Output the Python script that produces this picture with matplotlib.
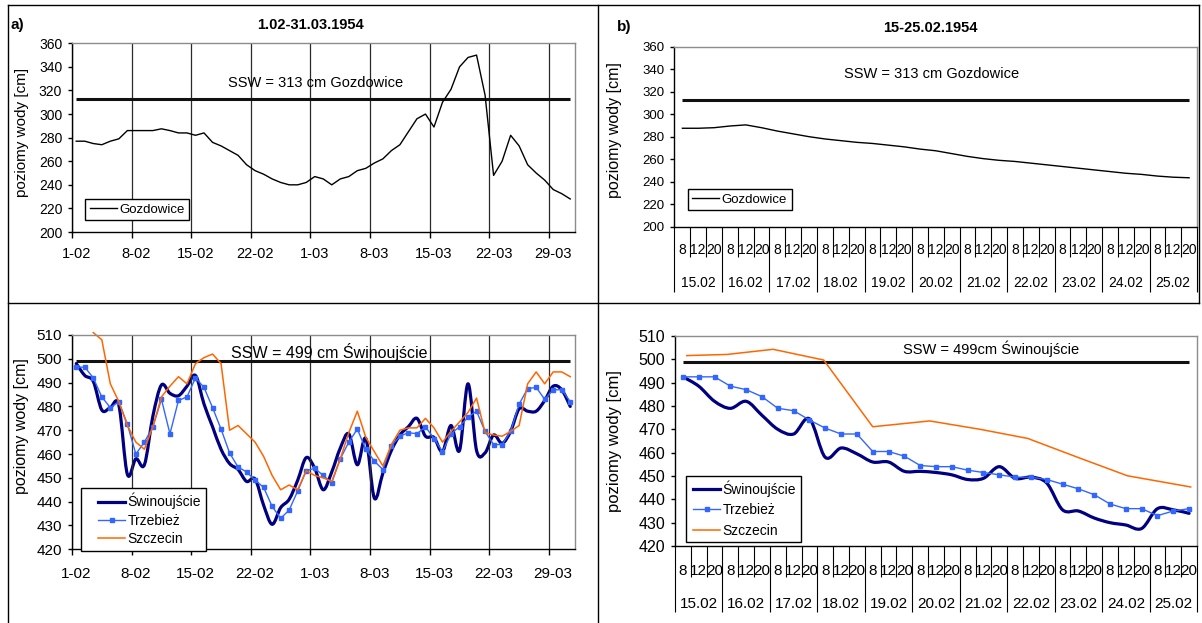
import matplotlib
matplotlib.use("Agg")
import matplotlib.pyplot as plt
import numpy as np
from matplotlib.path import Path
from matplotlib.patches import PathPatch
from matplotlib.lines import Line2D
from matplotlib.legend_handler import HandlerLine2D

plt.rcParams['font.family'] = ['Liberation Sans', 'DejaVu Sans']

# ---- a) 1.02-31.03.1954, daily values ----
week_labels = ['1-02', '8-02', '15-02', '22-02', '1-03', '8-03', '15-03', '22-03', '29-03']

gozdowice_a = [277, 277, 275, 274, 277, 279, 286, 286, 286, 286,
               287.5, 286, 284, 284, 282, 284, 276, 273, 269, 265,
               257, 252, 249, 245, 242, 240, 240, 242, 247, 245,
               240, 245, 247, 252, 254, 258.5, 262, 269, 274, 285,
               296, 300, 289, 310, 321, 340, 348, 350, 316, 248,
               260, 282, 273, 257, 250, 244, 236, 232.5, 228]

swinoujscie_a = [498, 493, 490.5, 478.5, 479.5, 480.5, 451.5, 458, 455.5, 476,
                 489, 485.5, 484.5, 488.5, 493, 481, 471.5, 462, 456, 453.5,
                 448.5, 449.5, 438.5, 430.5, 437.5, 441, 449, 458.5, 454, 445,
                 452.5, 462.5, 468.5, 455.5, 466.5, 441.5, 452, 461.5, 468, 471.5,
                 475, 467.5, 467, 461, 472, 461.5, 489.5, 461.5, 460.5, 468,
                 464.5, 469.5, 479, 478, 478, 482.5, 488.5, 487, 480]

trzebiez_a = [496.5, 496.5, 492, 484, 479.5, 482, 472.5, 460, 465, 471.5,
              483, 468.5, 482.5, 484, 492, 488, 479.5, 470.5, 460.5, 454.5,
              452.5, 449, 446, 438, 433, 436.5, 444.5, 453, 454, 451,
              448, 458, 465, 470.5, 462, 457, 453.5, 463.5, 467.5, 469,
              468.5, 471.5, 466.5, 461, 468.5, 471.5, 475.5, 478, 469.5, 464,
              464, 469.5, 481, 487.5, 488, 483, 487, 487, 482]

szczecin_a = [None, None, 511, 508, 489.5, 482, 472, 465, 462, 471.5,
              484, 488.5, 492.5, 489.5, 498, 500.5, 502, 498, 470, 472,
              468.5, 465, 459, 451, 445, 447, 445, 453, 451, 450,
              448.5, 458, 469, 478, 467, 461, 455, 464, 470, 471,
              471, 475, 471, 465, 469.5, 473.5, 477.5, 483.5, 469, 468,
              467.5, 469.5, 472, 489.5, 494.5, 489.5, 494.5, 494.5, 492.5]

# ---- b) 15-25.02.1954, readings at 8, 12 and 20 h ----
hours_b = ['8', '12', '20']
days_b = ['15.02', '16.02', '17.02', '18.02', '19.02', '20.02',
          '21.02', '22.02', '23.02', '24.02', '25.02']

gozdowice_b = [287.5, 287.5, 288, 289.5, 290.5, 288, 285, 282.5, 280, 278,
               276.5, 275, 274, 272.5, 271, 269, 267.5, 265, 262.5, 260.5,
               259, 258, 256.5, 255, 253.5, 252, 250.5, 249, 247.5, 246.5,
               245, 244, 243.5]

swinoujscie_b = [492.5, 488.5, 482, 479, 482, 476, 470, 468, 474.5, 458,
                 462, 459.5, 456, 456, 452, 452, 451.5, 450.5, 448.5, 449,
                 454, 449, 449.5, 447, 435.5, 435, 432, 430, 429, 427.5,
                 436, 435.5, 434]

trzebiez_b = [492.5, 492.5, 492.5, 488.5, 487, 484, 479, 478, 474, 470.5,
              468, 468, 460.5, 460.5, 458.5, 454.5, 454, 454, 452.5, 451.5,
              450.5, 449.5, 449.5, 448.5, 446.5, 444.5, 442, 438, 436, 436,
              433, 435, 436]

# Szczecin has fewer readings; position = index on the reading axis
szczecin_b_pos = [0.24, 2.8, 5.7, 8.9, 12.0, 15.6, 18.8, 21.8, 25.0, 28.1, 32.1]
szczecin_b = [501.6, 502.1, 504.3, 499.7, 471.1, 473.6, 470, 466.1, 457.9, 450.1, 445.3]

ssw_gozdowice = 313
ssw_swinoujscie = 499

NAVY = '#000080'
BLUE = '#3366ff'
ORANGE = '#ff6600'

W, H = 1202, 623
fig = plt.figure(figsize=(W / 100, H / 100), dpi=100)


def px_box(x0, y0, x1, y1):
    return [x0 / W, 1 - y1 / H, (x1 - x0) / W, (y1 - y0) / H]


def fig_text(x, y, s, **kw):
    fig.text(x / W, 1 - y / H, s, ha='center', va='center', **kw)


def fig_line(x0, y0, x1, y1):
    fig.add_artist(Line2D([x0 / W, x1 / W], [1 - y0 / H, 1 - y1 / H],
                          color='black', lw=1.0))


def smooth(ax, x, y, **kw):
    # excel-like smoothed line (bezier through the points)
    pts = np.column_stack([x, y])
    n = len(pts)
    verts = [pts[0]]
    codes = [Path.MOVETO]
    for i in range(n - 1):
        p0 = pts[max(i - 1, 0)]
        p1 = pts[i]
        p2 = pts[i + 1]
        p3 = pts[min(i + 2, n - 1)]
        verts += [p1 + (p2 - p0) / 6, p2 - (p3 - p1) / 6, p2]
        codes += [Path.CURVE4] * 3
    ax.add_patch(PathPatch(Path(verts, codes), fill=False, capstyle='round',
                           joinstyle='round', **kw))


def frame(ax):
    for side in ['top', 'right']:
        ax.spines[side].set_color('#8c8c8c')
    for side in ['left', 'bottom']:
        ax.spines[side].set_color('black')
    for sp in ax.spines.values():
        sp.set_linewidth(1.0)


def daily_axis(ax, ylo, yhi, step, ysize, xsize, xpad):
    n = len(gozdowice_a)
    ax.set_xlim(0, n)
    ax.set_ylim(ylo, yhi)
    ax.set_yticks(np.arange(ylo, yhi + 1, step))
    weeks = np.arange(0, n, 7)
    ax.set_xticks(weeks)
    ax.set_xticklabels([])
    ax.set_xticks(weeks + 0.5, minor=True)
    ax.set_xticklabels(week_labels, minor=True)
    ax.tick_params(axis='x', which='major', length=4, width=1)
    ax.tick_params(axis='x', which='minor', length=0, pad=xpad, labelsize=xsize)
    ax.tick_params(axis='y', length=3, width=1, pad=4, labelsize=ysize)
    ax.grid(axis='x', which='major', color='#2a2a2a', lw=0.9)
    frame(ax)


def reading_axis(ax, ylo, yhi, step, ysize, xsize, row1, row2, short, long):
    n = len(gozdowice_b)
    ax.set_xlim(0, n)
    ax.set_ylim(ylo, yhi)
    ax.set_yticks(np.arange(ylo, yhi + 1, step))
    ax.set_xticks(np.arange(0, n + 1, 3))
    ax.set_xticklabels([])
    ax.set_xticks(np.arange(0, n + 1), minor=True)
    ax.tick_params(axis='x', which='major', length=long, width=0.8)
    ax.tick_params(axis='x', which='minor', length=short, width=0.8)
    ax.tick_params(axis='y', length=3, width=1, pad=4, labelsize=ysize)
    for k in range(n):
        ax.annotate(hours_b[k % 3], xy=(k + 0.5, 0), xycoords=('data', 'axes fraction'),
                    xytext=(0, -row1), textcoords='offset points',
                    ha='center', va='center', fontsize=xsize)
    for j, d in enumerate(days_b):
        ax.annotate(d, xy=(3 * j + 1.5, 0), xycoords=('data', 'axes fraction'),
                    xytext=(0, -row2), textcoords='offset points',
                    ha='center', va='center', fontsize=xsize)
    frame(ax)


def legend(ax, handles, labels, x0, y0, size, xpad, hl, spacing):
    leg = ax.legend(handles, labels, loc='upper left',
                    bbox_to_anchor=(x0 / W, 1 - y0 / H), bbox_transform=fig.transFigure,
                    borderaxespad=0, fancybox=False, edgecolor='black', framealpha=1,
                    fontsize=size, handlelength=hl, handletextpad=0.2, borderpad=0.35,
                    labelspacing=spacing, handler_map={Line2D: HandlerLine2D(xpad=xpad)})
    leg.get_frame().set_linewidth(1.0)


day_x = np.arange(len(gozdowice_a)) + 0.5
read_x = np.arange(len(gozdowice_b)) + 0.5

# ---------------- a) top ----------------
ax1 = fig.add_axes(px_box(72, 43.3, 574.5, 232))
ax1.hlines(ssw_gozdowice, day_x[0], day_x[-1], color='#111111', lw=2.2)
l1, = ax1.plot(day_x, gozdowice_a, color='black', lw=1.0)
daily_axis(ax1, 200, 360, 20, 10, 10.5, 10.5)
legend(ax1, [l1], ['Gozdowice'], 85, 199, 9.5, 0.0, 2.05, 0.3)

# ---------------- a) bottom ----------------
ax2 = fig.add_axes(px_box(72, 335, 574.5, 549.3))
ax2.hlines(ssw_swinoujscie, day_x[0], day_x[-1], color='#111111', lw=2.2)
smooth(ax2, day_x, swinoujscie_a, edgecolor=NAVY, lw=2.3)
l2b, = ax2.plot(day_x, trzebiez_a, color=BLUE, lw=1.0, marker='s', ms=3.2)
l2c, = ax2.plot(day_x, np.array(szczecin_a, dtype=float), color=ORANGE, lw=1.1,
                clip_on=False)
daily_axis(ax2, 420, 510, 10, 11, 11, 13)
h_swin = Line2D([], [], color=NAVY, lw=2.3)
legend(ax2, [h_swin, l2b, l2c], ['Świnoujście', 'Trzebież', 'Szczecin'],
       80.6, 488, 10, 0.92, 2.84, 0.32)

# ---------------- b) top ----------------
ax3 = fig.add_axes(px_box(674.5, 46.7, 1197, 226.7))
ax3.hlines(ssw_gozdowice, read_x[0], read_x[-1], color='#111111', lw=2.2)
l3, = ax3.plot(read_x, gozdowice_b, color='black', lw=1.0)
reading_axis(ax3, 200, 360, 20, 9.5, 10, 17, 40.5, 21.8, 47)
legend(ax3, [l3], ['Gozdowice'], 687.5, 189, 9.5, 0.0, 2.05, 0.3)

# ---------------- b) bottom ----------------
ax4 = fig.add_axes(px_box(675, 336, 1197, 546))
ax4.hlines(ssw_swinoujscie, read_x[0], read_x[-1], color='#111111', lw=2.2)
smooth(ax4, read_x, swinoujscie_b, edgecolor=NAVY, lw=2.3)
l4b, = ax4.plot(read_x, trzebiez_b, color=BLUE, lw=1.0, marker='s', ms=3.2)
l4c, = ax4.plot(np.array(szczecin_b_pos) + 0.5, szczecin_b, color=ORANGE, lw=1.1)
reading_axis(ax4, 420, 510, 10, 11.5, 11, 18.2, 42, 22.3, 47.5)
legend(ax4, [h_swin, l4b, l4c], ['Świnoujście', 'Trzebież', 'Szczecin'],
       685.5, 475.7, 10, 0.2, 2.13, 0.45)

# ---------------- texts ----------------
fig_text(17, 25, 'a)', fontsize=11, fontweight='bold')
fig_text(624, 27, 'b)', fontsize=11, fontweight='bold')
fig_text(310, 25, '1.02-31.03.1954', fontsize=10.5, fontweight='bold')
fig_text(930, 28, '15-25.02.1954', fontsize=10.5, fontweight='bold')
fig_text(316, 83, 'SSW = 313 cm Gozdowice', fontsize=10.5)
fig_text(932, 74, 'SSW = 313 cm Gozdowice', fontsize=10.5)
fig_text(329, 352, 'SSW = 499 cm Świnoujście', fontsize=11.5)
fig_text(991, 349, 'SSW = 499cm Świnoujście', fontsize=10.5)
fig_text(22, 132, 'poziomy wody [cm]', fontsize=11, rotation=90)
fig_text(22, 426, 'poziomy wody [cm]', fontsize=11.5, rotation=90)
fig_text(615, 130, 'poziomy wody [cm]', fontsize=11.5, rotation=90)
fig_text(615, 441, 'poziomy wody [cm]', fontsize=12, rotation=90)

# ---------------- panel frames ----------------
fig_line(8, 5, 1199, 5)
fig_line(8, 303, 1199, 303)
fig_line(8, 5, 8, 623)
fig_line(598, 5, 598, 623)
fig_line(1199, 5, 1199, 303)

fig.savefig('out.png', dpi=100)
